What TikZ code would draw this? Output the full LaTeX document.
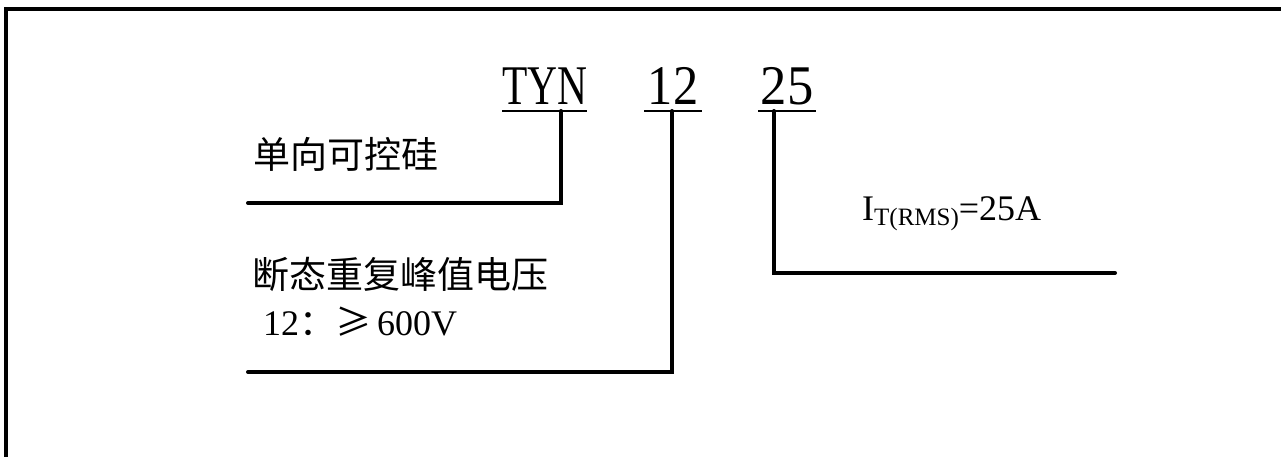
\documentclass[tikz,border=0pt]{standalone}
\usepackage{fontspec}
\setmainfont{Liberation Serif}
\newfontfamily\cjk{Noto Sans CJK SC}
\begin{document}
\begin{tikzpicture}[x=1pt,y=-1pt,
  conn/.style={line width=4pt,line cap=round,line join=miter},
  uline/.style={line width=2.6pt},
  frame/.style={line width=4pt},
  code/.style={inner sep=0pt,anchor=base,font=\fontsize{56}{56}\selectfont,transform shape},
  cjklab/.style={inner sep=0pt,anchor=base west,font=\cjk\fontsize{37}{37}\selectfont},
  lab/.style={inner sep=0pt,anchor=base west,font=\fontsize{36}{36}\selectfont}]
\useasboundingbox (0,0) rectangle (1281,457);
% frame
\draw[frame] (6,457) -- (6,9) -- (1285,9);
% codes
\node[code,xscale=0.74] (tyn) at (545,105) {TYN};
\node[code,xscale=0.9] (n12) at (673,105) {12};
\node[code,xscale=0.94] (n25) at (787,105) {25};
% underlines
\coordinate (u1a) at (502,111); \coordinate (u1b) at (587,111);
\coordinate (u2a) at (644,111); \coordinate (u2b) at (702,111);
\coordinate (u3a) at (758,111); \coordinate (u3b) at (816,111);
\draw[uline] (u1a) -- (u1b);
\draw[uline] (u2a) -- (u2b);
\draw[uline] (u3a) -- (u3b);
% labels
\node[cjklab] (l1) at (253,169) {单向可控硅};
\node[cjklab] (l2a) at (252,288) {断态重复峰值电压};
\node[lab] (l2b) at (263,335) {12{\cjk：≥}\hspace{6pt}600V};
\node[lab] (l3) at (862,220) {I\raisebox{-0.16em}{\fontsize{25}{25}\selectfont T(RMS)}=25A};
% connectors
\coordinate (t1) at (561,111); \coordinate (e1) at (248,203);
\coordinate (t2) at (672,111); \coordinate (e2) at (248,372);
\coordinate (t3) at (774,111); \coordinate (e3) at (1115,273);
\draw[conn] (t1) |- (e1);
\draw[conn] (t2) |- (e2);
\draw[conn] (t3) |- (e3);
\end{tikzpicture}
\end{document}
